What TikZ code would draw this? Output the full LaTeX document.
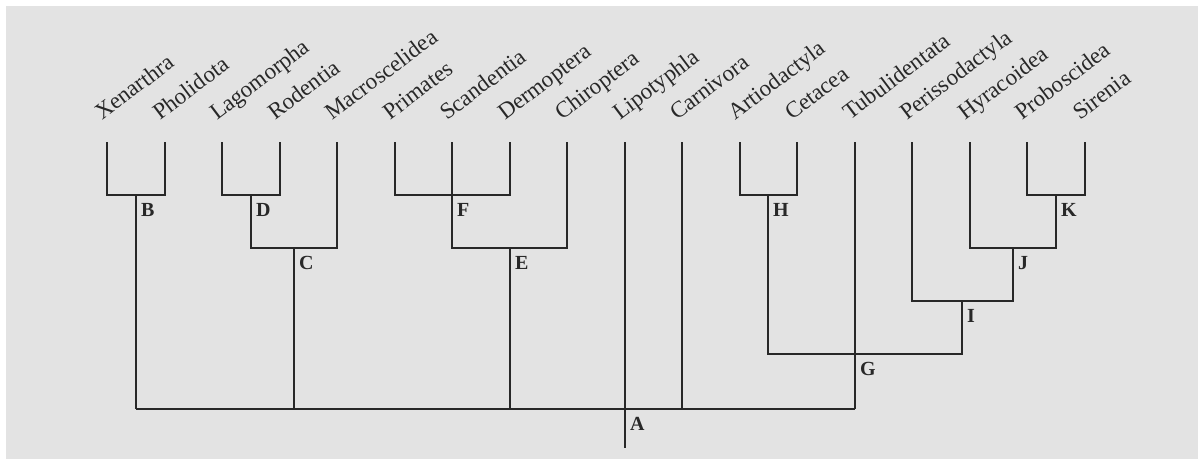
\documentclass[tikz,border=0pt]{standalone}
\usepackage{fontspec}
\setmainfont{Liberation Serif}
\usepackage{tikz}
\usetikzlibrary{calc,positioning}
\definecolor{pageColor}{HTML}{E3E3E3}
\definecolor{inkColor}{HTML}{282828}
\tikzset{taxon name/.style={anchor=base west, rotate=37, inner sep=0pt, text=inkColor,
		font=\fontsize{23}{27}\selectfont}}
\tikzset{clade label/.style={anchor=north west, inner sep=0pt, xshift=5pt, yshift=-8pt,
		text=inkColor, font=\fontsize{20}{24}\selectfont\bfseries}}
\tikzset{branch/.style={draw=inkColor, line width=2.4pt, line join=miter}}

\begin{document}
\begin{tikzpicture}[x=1pt,y=-1pt]
	\useasboundingbox (0,0) rectangle (1198,459);
	\fill[white] (0,0) rectangle (1198,459);
	\fill[pageColor] (6,6) rectangle (1198,459);
	% tips of the branches and the names above them
	\foreach \name [count=\i from 0] in {Xenarthra,Pholidota,Lagomorpha,Rodentia,Macroscelidea,
		Primates,Scandentia,Dermoptera,Chiroptera,Lipotyphla,Carnivora,Artiodactyla,Cetacea,
		Tubulidentata,Perissodactyla,Hyracoidea,Proboscidea,Sirenia}{
		\coordinate (l\i) at ({round(107+57.5*\i)},142);
		\node[taxon name] (t\i) at ([xshift=-5pt,yshift=21pt]l\i) {\name};
	}
	% branching points
	\coordinate (A) at (625,409);
	\coordinate (root) at (625,448);
	\coordinate (B) at (136,195);
	\coordinate (D) at (251,195);
	\coordinate (C) at (294,248);
	\coordinate (F) at (452,195);
	\coordinate (E) at (510,248);
	\coordinate (H) at (768,195);
	\coordinate (G) at (855,354);
	\coordinate (K) at (1056,195);
	\coordinate (J) at (1013,248);
	\coordinate (I) at (962,301);

	\draw[branch] (l0) |- (B) -| (l1);
	\draw[branch] (l2) |- (D) -| (l3);
	\draw[branch] (D) |- (C) -| (l4);
	\draw[branch] (l5) |- (F) -| (l7);
	\draw[branch] (l6) -- (F);
	\draw[branch] (F) |- (E) -| (l8);
	\draw[branch] (l11) |- (H) -| (l12);
	\draw[branch] (l16) |- (K) -| (l17);
	\draw[branch] (l15) |- (J) -| (K);
	\draw[branch] (l14) |- (I) -| (J);
	\draw[branch] (H) |- (G) -| (I);
	\draw[branch] (l13) -- (G) -- (G |- A);
	\draw[branch] (B) -- (B |- A);
	\draw[branch] (C) -- (C |- A);
	\draw[branch] (E) -- (E |- A);
	\draw[branch] (l10) -- (l10 |- A);
	\draw[branch] (l9) -- (A) -- (root);
	\draw[branch] (B |- A) -- (G |- A);

	\foreach \c in {A,B,C,D,E,F,G,H,I,J,K}
		\node[clade label] (lab\c) at (\c) {\c};
\end{tikzpicture}
\end{document}
